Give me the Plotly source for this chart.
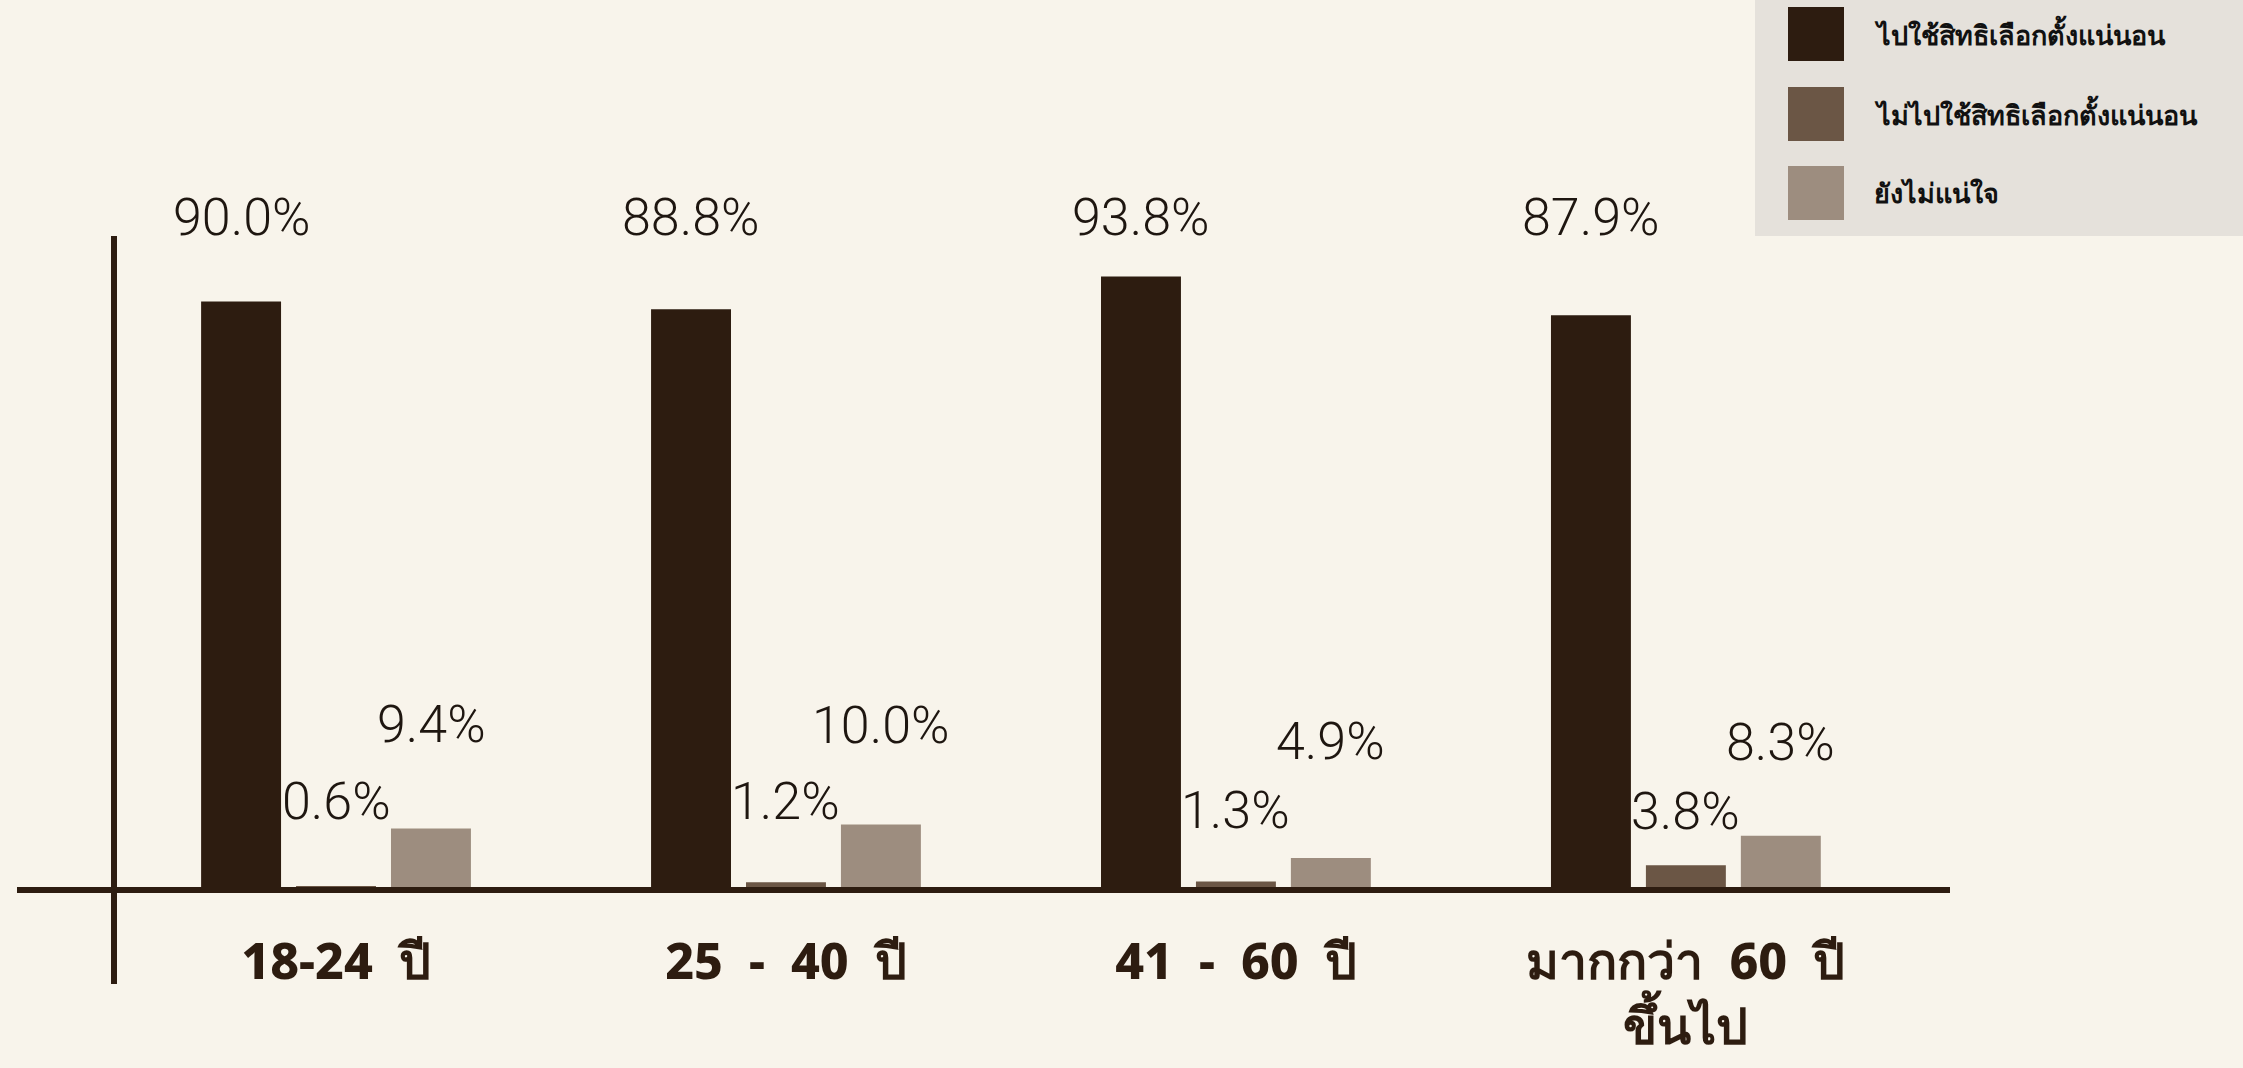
import plotly.graph_objects as go

categories = ["18-24\u00a0\u00a0ปี", "25\u00a0\u00a0-\u00a0\u00a040\u00a0\u00a0ปี", "41\u00a0\u00a0-\u00a0\u00a060\u00a0\u00a0ปี", "มากกว่า\u00a0\u00a060\u00a0\u00a0ปี<br>ขึ้นไป"]
series_names = ["ไปใช้สิทธิเลือกตั้งแน่นอน", "ไม่ไปใช้สิทธิเลือกตั้งแน่นอน", "ยังไม่แน่ใจ"]
will_vote = [90.0, 88.8, 93.8, 87.9]
will_not_vote = [0.6, 1.2, 1.3, 3.8]
unsure = [9.4, 10.0, 4.9, 8.3]

series_values = [will_vote, will_not_vote, unsure]
colors = ["#2d1c10", "#6b5645", "#9d8d7f"]

W, H = 2243, 1068
ML, MR, MT, MB = 17, 293, 100, 178
PW, PH = W - ML - MR, H - MT - MB
BASE_PX = H - MB


def py(pixel_y):
    return (BASE_PX - pixel_y) / PH


def px(pixel_x):
    return (pixel_x - ML) / PW


fig = go.Figure()
for name, vals, col in zip(series_names, series_values, colors):
    fig.add_trace(go.Bar(x=categories, y=vals, name=name, marker_color=col,
                         marker_line_width=0, showlegend=False, cliponaxis=False))

slot = 95
label_font = dict(family="Roboto, sans-serif", size=52, color="#1e1610", weight=300)
mid_rows = [801, 801, 810, 811]
light_rows = [724, 725, 741, 742]
for si, vals in enumerate(series_values):
    for ci, v in enumerate(vals):
        if si == 0:
            yy = py(217)
        elif si == 1:
            yy = py(mid_rows[ci])
        else:
            yy = py(light_rows[ci])
        fig.add_annotation(x=categories[ci], y=yy, xref="x", yref="paper",
                           text=f"{v:.1f}%", showarrow=False,
                           xshift=(si - 1) * slot, font=label_font,
                           xanchor="center", yanchor="middle")

shapes = []
line_col = "#2d1c10"
shapes.append(dict(type="line", xref="paper", yref="paper", x0=0, x1=1, y0=0, y1=0,
                   line=dict(color=line_col, width=6)))
shapes.append(dict(type="line", xref="paper", yref="paper", x0=px(114), x1=px(114),
                   y0=py(236), y1=py(984), line=dict(color=line_col, width=6)))
shapes.append(dict(type="rect", xref="paper", yref="paper", x0=px(1755), x1=px(2250),
                   y0=py(236), y1=py(-5), fillcolor="#e5e1db", line_width=0, layer="below"))
leg_y = [34, 114, 193]
for name, col, ly in zip(series_names, colors, leg_y):
    shapes.append(dict(type="rect", xref="paper", yref="paper", x0=px(1788), x1=px(1844),
                       y0=py(ly + 27), y1=py(ly - 27), fillcolor=col, line_width=0))
    fig.add_annotation(x=px(1872), y=py(ly), xref="paper", yref="paper", text=name,
                       showarrow=False, xanchor="left", yanchor="middle",
                       font=dict(family="Noto Sans, sans-serif", size=27, color="#111111", weight=800))

fig.update_layout(
    width=W, height=H,
    margin=dict(l=ML, r=MR, t=MT, b=MB, pad=0),
    paper_bgcolor="#f8f4eb", plot_bgcolor="rgba(0,0,0,0)",
    barmode="group", bargap=0.367, bargroupgap=0.158,
    shapes=shapes,
    xaxis=dict(type="category", range=[-0.709, 3.587], showgrid=False, zeroline=False,
               showline=False, ticks="", ticklabelstandoff=38, automargin=False,
               tickfont=dict(family="Noto Sans, sans-serif", size=50, color="#2d1c10", weight=800)),
    yaxis=dict(range=[0, PH / 6.54], showgrid=False, zeroline=False, showline=False,
               showticklabels=False, ticks="", automargin=False),
)

fig.write_html("out.html", config={"displayModeBar": False},
               post_script="document.body.style.margin='0';document.body.style.background='#f8f4eb';")
